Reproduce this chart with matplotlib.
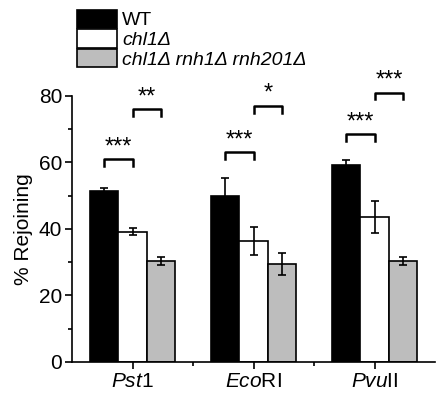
import matplotlib.pyplot as plt
import numpy as np
from matplotlib.patches import Patch

plt.rcParams['font.family'] = ['Liberation Sans', 'DejaVu Sans']
plt.rcParams['mathtext.fontset'] = 'custom'
plt.rcParams['mathtext.rm'] = 'Liberation Sans'
plt.rcParams['mathtext.it'] = 'Liberation Sans:italic'

# data
groups = [r'$\it{Pst}$1', r'$\it{Eco}$RI', r'$\it{Pvu}$II']
strains = ['WT', 'chl1Δ', 'chl1Δ rnh1Δ rnh201Δ']
wt = [51.5, 50.0, 59.3]
wt_err = [0.8, 5.4, 1.3]
chl1 = [39.2, 36.4, 43.7]
chl1_err = [1.0, 4.2, 4.8]
triple = [30.3, 29.5, 30.4]
triple_err = [1.2, 3.3, 1.3]
# significance: (group, left bar, right bar, height, label)
sig = [(0, 0, 1, 61, '***'), (0, 1, 2, 76, '**'),
       (1, 0, 1, 63, '***'), (1, 1, 2, 77, '*'),
       (2, 0, 1, 68.5, '***'), (2, 1, 2, 81, '***')]

colors = ['black', 'white', '#bdbdbd']
w = 0.235

fig = plt.figure(figsize=(4.45, 3.93), dpi=100)
ax = fig.add_axes([0.162, 0.079, 0.816, 0.677])

x = np.arange(len(groups))
vals = [wt, chl1, triple]
errs = [wt_err, chl1_err, triple_err]
for i in range(3):
    ax.bar(x + (i - 1) * w, vals[i], w, yerr=errs[i], color=colors[i],
           edgecolor='black', linewidth=1.2, capsize=3,
           error_kw=dict(elinewidth=1.2, capthick=1.2))

for g, a, b, h, lab in sig:
    x0 = g + (a - 1) * w
    x1 = g + (b - 1) * w
    ax.plot([x0, x0, x1, x1], [h - 2, h, h, h - 2], color='black', lw=1.8,
            clip_on=False)
    ax.text((x0 + x1) / 2, h + 0.3, lab, ha='center', va='bottom',
            fontsize=17, clip_on=False)

ax.set_xlim(-0.5, 2.5)
ax.set_ylim(0, 80)
ax.set_xticks(x)
ax.set_xticklabels(groups, fontsize=15)
ax.set_xticks([0.5, 1.5], minor=True)
ax.set_yticks([0, 20, 40, 60, 80])
ax.set_yticks([10, 30, 50, 70], minor=True)
ax.tick_params(axis='y', labelsize=15, pad=2)
ax.tick_params(axis='x', pad=2)
ax.tick_params(which='major', length=5, width=1.2)
ax.tick_params(which='minor', length=3, width=1.2)
ax.set_ylabel('% Rejoining', fontsize=15, labelpad=4)
for s in ['top', 'right']:
    ax.spines[s].set_visible(False)
for s in ['left', 'bottom']:
    ax.spines[s].set_linewidth(1.2)

handles = [Patch(facecolor=c, edgecolor='black', linewidth=1.2) for c in colors]
leg = fig.legend(handles, strains, loc='upper left', bbox_to_anchor=(0.172, 0.975),
                 frameon=False, fontsize=14, handlelength=2.1, handleheight=1.05,
                 handletextpad=0.25, labelspacing=0.0, borderpad=0, borderaxespad=0)
for t in leg.get_texts()[1:]:
    t.set_fontstyle('italic')

fig.savefig('out.png', dpi=100)
